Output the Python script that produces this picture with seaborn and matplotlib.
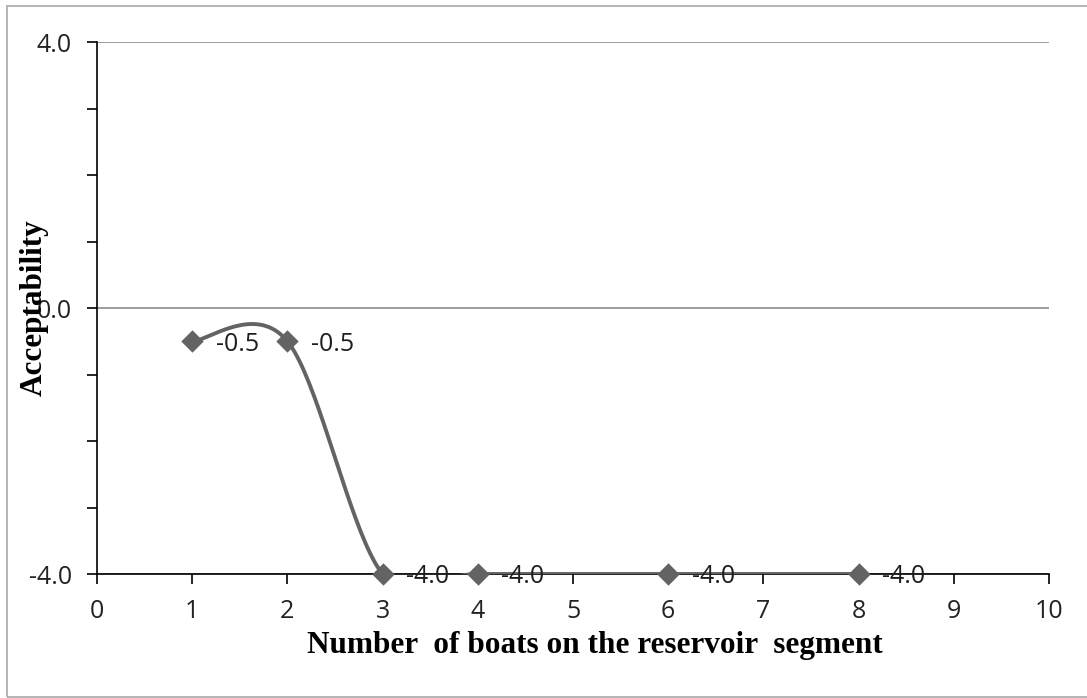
import matplotlib

matplotlib.use("Agg")
import matplotlib.pyplot as plt
import numpy as np
import pandas as pd
import seaborn as sns
from matplotlib.patches import Rectangle
from matplotlib.ticker import MultipleLocator, FuncFormatter

# data
boats = [1, 2, 3, 4, 6, 8]
acceptability = [-0.5, -0.5, -4.0, -4.0, -4.0, -4.0]
point_labels = ["-0.5", "-0.5", "-4.0", "-4.0", "-4.0", "-4.0"]

LINE_COLOR = "#636363"


def excel_smooth(xs, ys, n=40):
    # bezier smoothing like the spreadsheet "smoothed line" option
    pts = np.column_stack([xs, ys]).astype(float)
    padded = np.vstack([pts[0], pts, pts[-1]])
    out = []
    for i in range(len(pts) - 1):
        p0, p1, p2, p3 = padded[i], padded[i + 1], padded[i + 2], padded[i + 3]
        c1 = p1 + (p2 - p0) / 6.0
        c2 = p2 - (p3 - p1) / 6.0
        t = np.linspace(0, 1, n)[:, None]
        seg = ((1 - t) ** 3) * p1 + 3 * ((1 - t) ** 2) * t * c1 + 3 * (1 - t) * t**2 * c2 + t**3 * p2
        out.append(seg if i == 0 else seg[1:])
    return np.vstack(out)


sns.set_theme(style="white")
plt.rcParams["font.family"] = ["Open Sans", "DejaVu Sans"]

fig = plt.figure(figsize=(10.87, 6.98), dpi=100)
ax = fig.add_axes([97 / 1087, 1 - 574 / 698, (1049 - 97) / 1087, (574 - 42) / 698])

curve = excel_smooth(boats, acceptability)
smooth_df = pd.DataFrame({"x": curve[:, 0], "y": curve[:, 1]})
sns.lineplot(data=smooth_df, x="x", y="y", sort=False, color=LINE_COLOR, linewidth=2.8, ax=ax, zorder=3)

pts_df = pd.DataFrame({"boats": boats, "acceptability": acceptability})
sns.scatterplot(
    data=pts_df, x="boats", y="acceptability", marker="D", s=130,
    color=LINE_COLOR, edgecolor=LINE_COLOR, linewidth=0, ax=ax, zorder=4, clip_on=False,
)

for x, y, lab in zip(boats, acceptability, point_labels):
    ax.annotate(lab, (x, y), xytext=(17, -2), textcoords="offset points",
                ha="left", va="center", fontsize=18, color="#1e1e1e", zorder=5)

ax.set_xlim(0, 10)
ax.set_ylim(-4, 4)
ax.xaxis.set_major_locator(MultipleLocator(1))
ax.yaxis.set_major_locator(MultipleLocator(4))
ax.yaxis.set_minor_locator(MultipleLocator(1))
ax.yaxis.set_major_formatter(FuncFormatter(lambda v, p: f"{v:.1f}"))

ax.grid(axis="y", which="major", color="#8c8c8c", linewidth=1.2)
ax.grid(axis="x", visible=False)
ax.set_axisbelow(True)

for side in ["top", "right"]:
    ax.spines[side].set_visible(False)
for side in ["left", "bottom"]:
    ax.spines[side].set_color("black")
    ax.spines[side].set_linewidth(1.2)

ax.tick_params(axis="both", which="both", direction="out", length=7, width=1.2, color="black",
               labelsize=18, labelcolor="#222222")
ax.tick_params(axis="y", which="both", left=True, pad=11)
ax.tick_params(axis="x", which="major", bottom=True, pad=11)

ax.set_xlabel("Number  of boats on the reservoir  segment", fontsize=22.5, fontweight="bold",
              family="Liberation Serif", color="black")
ax.xaxis.set_label_coords(0.523, -0.135)
ax.xaxis.label.set_va("center")
ax.set_ylabel("Acceptability", fontsize=22.5, fontweight="bold",
              family="Liberation Serif", color="black")
ax.yaxis.set_label_coords(-0.066, 0.5)
ax.yaxis.label.set_va("center")

# light outer frame like the exported chart area (cut off at right and bottom)
fig.patches.append(Rectangle((7 / 1087, 1 - 697 / 698), (1100 - 7) / 1087, (697 - 6) / 698,
                             transform=fig.transFigure, fill=False, edgecolor="#b4b4b4", linewidth=1.4))

fig.savefig("out.png", dpi=100)
